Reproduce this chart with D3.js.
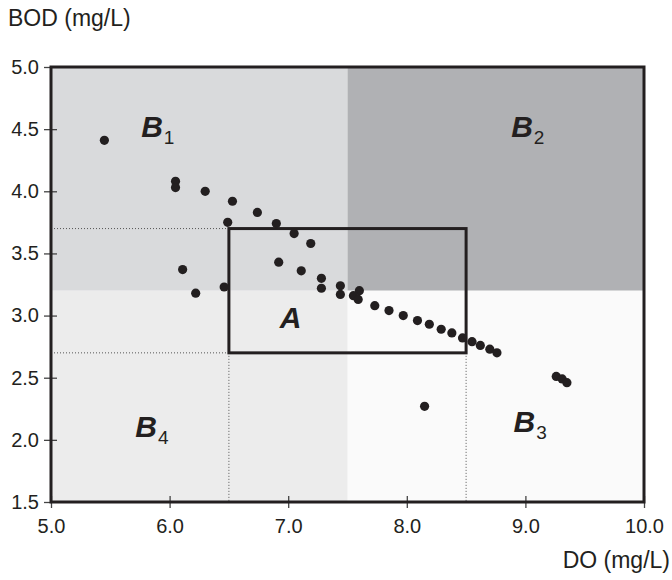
<!DOCTYPE html>
<html>
<head>
<meta charset="utf-8">
<script src="https://cdn.jsdelivr.net/npm/d3@7"></script>
<style>
    body{margin:0;background:#fff;}
    text{font-family:"Liberation Sans",Arial,Helvetica,sans-serif;fill:#231f20;}
</style>
</head>
<body>
<div id="chart-area"></div>
<script>
//Scatter of DO vs BOD with quadrant zones

//Data
var doValues  = [5.45,6.05,6.05,6.30,6.53,6.49,6.74,6.90,7.05,7.19,6.92,7.11,7.28,7.28,6.11,6.22,6.46,
                 7.44,7.44,7.60,7.55,7.59,7.73,7.85,7.97,8.09,8.19,8.29,8.38,8.47,8.55,8.62,8.70,8.76,
                 9.26,9.31,9.35,8.15]
var bodValues = [4.41,4.08,4.03,4.00,3.92,3.75,3.83,3.74,3.66,3.58,3.43,3.36,3.30,3.22,3.37,3.18,3.23,
                 3.24,3.17,3.20,3.16,3.13,3.08,3.04,3.00,2.96,2.93,2.89,2.86,2.82,2.79,2.76,2.73,2.70,
                 2.51,2.49,2.46,2.27]
var xTicks = [5,6,7,8,9,10]
var yTicks = [1.5,2,2.5,3,3.5,4,4.5,5]

//Zones: [x0,x1,y0,y1]
var zoneNames  = ["1","2","3","4"]
var zoneBounds = [[5,7.5,3.2,5],[7.5,10,3.2,5],[7.5,10,1.5,3.2],[5,7.5,1.5,3.2]]
var zoneColors = ["#d9dadc","#b0b1b4","#fafafa","#ececec"]
var zoneLabelPos = [[5.76,4.44],[8.88,4.44],[8.9,2.06],[5.71,2.02]]

//Target box A
var boxA = {x0:6.5,x1:8.5,y0:2.7,y1:3.7}

//Sizes
var width = 672
var height = 580
var margin = {top:67,bottom:78,left:51,right:28}

var svg = d3.select("#chart-area")
    .append("svg")
        .attr("width",width)
        .attr("height",height)

//Scales
var x = d3.scaleLinear()
    .domain([5,10])
    .range([margin.left,width - margin.right])
var y = d3.scaleLinear()
    .domain([1.5,5])
    .range([height - margin.bottom,margin.top])

//Zone backgrounds
svg.selectAll("rect.zone")
    .data(zoneBounds)
    .enter()
    .append("rect")
        .attr("class","zone")
        .attr("x",(d)=>x(d[0]))
        .attr("y",(d)=>y(d[3]))
        .attr("width",(d)=>x(d[1]) - x(d[0]))
        .attr("height",(d)=>y(d[2]) - y(d[3]))
        .attr("fill",(d,i)=>zoneColors[i])

//Dotted guides to box A
var guides = [
    [5,boxA.y1,boxA.x0,boxA.y1],
    [5,boxA.y0,boxA.x0,boxA.y0],
    [boxA.x0,boxA.y0,boxA.x0,1.5],
    [boxA.x1,boxA.y0,boxA.x1,1.5]
]
svg.selectAll("line.guide")
    .data(guides)
    .enter()
    .append("line")
        .attr("x1",(d)=>x(d[0]))
        .attr("y1",(d)=>y(d[1]))
        .attr("x2",(d)=>x(d[2]))
        .attr("y2",(d)=>y(d[3]))
        .attr("stroke","#555")
        .attr("stroke-width",1)
        .attr("stroke-dasharray","1,2")

//Box A
svg.append("rect")
    .attr("x",x(boxA.x0))
    .attr("y",y(boxA.y1))
    .attr("width",x(boxA.x1) - x(boxA.x0))
    .attr("height",y(boxA.y0) - y(boxA.y1))
    .attr("fill","none")
    .attr("stroke","#231f20")
    .attr("stroke-width",3)

//Points
svg.selectAll("circle")
    .data(doValues)
    .enter()
    .append("circle")
        .attr("cx",(d)=>x(d))
        .attr("cy",(d,i)=>y(bodValues[i]))
        .attr("r",4.6)
        .attr("fill","#231f20")

//Zone labels
var zl = svg.selectAll("text.zone-label")
    .data(zoneNames)
    .enter()
    .append("text")
        .attr("class","zone-label")
        .attr("x",(d,i)=>x(zoneLabelPos[i][0]))
        .attr("y",(d,i)=>y(zoneLabelPos[i][1]))
zl.append("tspan")
    .attr("font-size","30px")
    .attr("font-weight","bold")
    .attr("font-style","italic")
    .text("B")
zl.append("tspan")
    .attr("font-size","19px")
    .attr("dx","1")
    .attr("dy","7")
    .text((d)=>d)

svg.append("text")
    .attr("x",x(7.02))
    .attr("y",y(2.9))
    .attr("text-anchor","middle")
    .attr("font-size","30px")
    .attr("font-weight","bold")
    .attr("font-style","italic")
    .text("A")

//Axes
var xAxisCall = d3.axisBottom(x)
    .tickValues(xTicks)
    .tickSizeInner(6)
    .tickSizeOuter(0)
    .tickFormat(d3.format(".1f"))
var xAxisGroup = svg.append("g")
    .attr("class","x-axis")
    .attr("transform","translate(0," + y(1.5) + ")")
    .call(xAxisCall)
xAxisGroup.select(".domain").remove()
xAxisGroup.selectAll("line")
    .attr("y1",-6)
    .attr("stroke","#444")
    .attr("stroke-width",1.3)
xAxisGroup.selectAll("text")
    .attr("font-size","20px")
    .attr("y",17)
    .attr("fill","#231f20")

var yAxisCall = d3.axisLeft(y)
    .tickValues(yTicks)
    .tickSizeInner(6)
    .tickSizeOuter(0)
    .tickFormat(d3.format(".1f"))
var yAxisGroup = svg.append("g")
    .attr("class","y-axis")
    .attr("transform","translate(" + x(5) + ",0)")
    .call(yAxisCall)
yAxisGroup.select(".domain").remove()
yAxisGroup.selectAll("line")
    .attr("x2",-7)
    .attr("x1",(d)=>(d==5||d==1.5) ? 0 : 6)
    .attr("stroke","#444")
    .attr("stroke-width",1.3)
yAxisGroup.selectAll("text")
    .attr("font-size","20px")
    .attr("x",-12)
    .attr("fill","#231f20")

//Frame
svg.append("rect")
    .attr("x",x(5))
    .attr("y",y(5))
    .attr("width",x(10) - x(5))
    .attr("height",y(1.5) - y(5))
    .attr("fill","none")
    .attr("stroke","#231f20")
    .attr("stroke-width",3)

//Axis titles
svg.append("text")
    .attr("x",8)
    .attr("y",26)
    .attr("font-size","23px")
    .text("BOD (mg/L)")

svg.append("text")
    .attr("x",670)
    .attr("y",568)
    .attr("text-anchor","end")
    .attr("font-size","23px")
    .text("DO (mg/L)")
</script>
</body>
</html>
